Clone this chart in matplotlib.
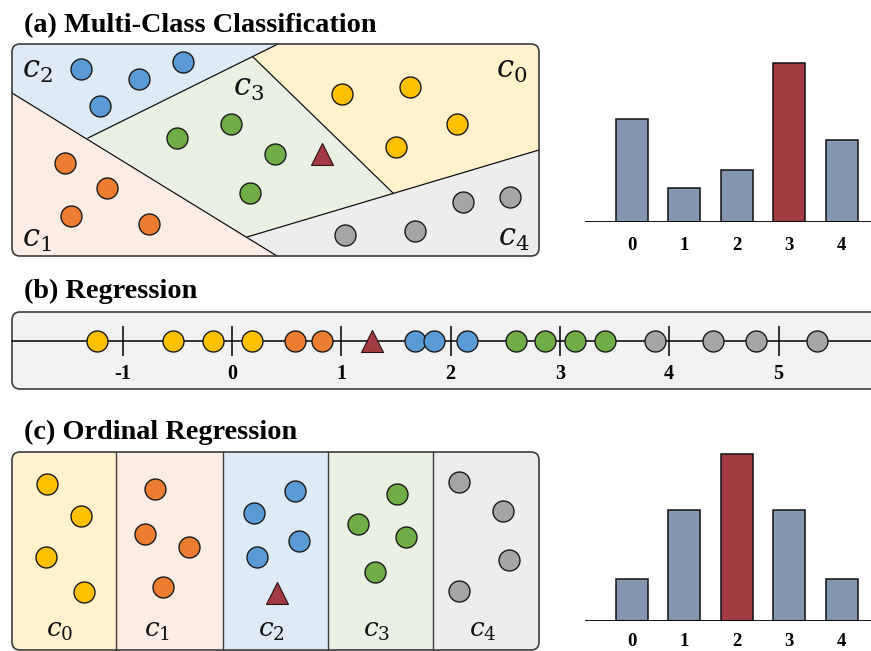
import matplotlib
matplotlib.use("Agg")
import matplotlib.pyplot as plt
from matplotlib.patches import FancyBboxPatch, Polygon, Rectangle

plt.rcParams["mathtext.fontset"] = "custom"
plt.rcParams["mathtext.it"] = "DejaVu Serif:italic"
plt.rcParams["mathtext.rm"] = "DejaVu Serif"

W, H, DPI = 871, 651, 100
SERIF = "Liberation Serif"

CLASSES = ["c0", "c1", "c2", "c3", "c4"]
DOT = {"c0": "#FFC000", "c1": "#ED7D31", "c2": "#5B9BD5", "c3": "#70AD47", "c4": "#A5A5A5"}
TINT = {"c0": "#FFF2CC", "c1": "#FCEDE4", "c2": "#DEEBF7", "c3": "#EAF1E3", "c4": "#EDEDED"}
QUERY = "#A33B42"
BAR = "#8497B0"
EDGE = "#3C3C3C"

# ---------------- (a) multi-class classification (canvas pixels) ----------------
a_points = {
    "c0": [(342, 94), (410, 87), (457, 124), (396, 147)],
    "c1": [(65, 163), (107, 188), (71, 216), (149, 224)],
    "c2": [(81, 69), (139, 79), (183, 62), (100, 106)],
    "c3": [(177, 138), (231, 124), (275, 154), (250, 193)],
    "c4": [(463, 202), (510, 197), (415, 231), (345, 235)],
}
a_query = (322, 154)
a_regions = {
    "c2": [(12, 44), (278, 44), (88, 138), (12, 93)],
    "c1": [(12, 93), (277, 256), (12, 256)],
    "c3": [(88, 138), (253, 57), (393, 193), (247, 237)],
    "c0": [(278, 44), (539, 44), (539, 150), (393, 193), (253, 57)],
    "c4": [(247, 237), (393, 193), (539, 150), (539, 256), (277, 256)],
}
a_borders = [
    [(12, 93), (277, 256)],
    [(88, 138), (278, 44)],
    [(253, 57), (393, 193)],
    [(247, 237), (539, 150)],
]
a_labels = {"c0": (512, 78), "c1": (37, 247), "c2": (37, 78), "c3": (249, 96), "c4": (514, 246)}

# predicted class distribution for the query in (a)
a_bar_cats = ["0", "1", "2", "3", "4"]
a_bar_vals = [0.24, 0.08, 0.12, 0.37, 0.19]
a_bar_hit = 3

# ---------------- (b) regression (values on the real line) ----------------
b_ticks = [-1, 0, 1, 2, 3, 4, 5]
b_tick_labels = ["-1", "0", "1", "2", "3", "4", "5"]
b_values = {
    "c0": [-1.235, -0.54, -0.17, 0.18],
    "c1": [0.58, 0.82],
    "c2": [1.67, 1.85, 2.15],
    "c3": [2.60, 2.86, 3.14, 3.41],
    "c4": [3.87, 4.40, 4.79, 5.35],
}
b_query = 1.28

# ---------------- (c) ordinal regression (canvas pixels) ----------------
c_strip_edges = [12, 116, 223, 328, 433, 539]
c_points = {
    "c0": [(47, 484), (81, 516), (46, 557), (84, 592)],
    "c1": [(155, 489), (145, 534), (189, 547), (163, 587)],
    "c2": [(295, 491), (254, 513), (299, 541), (257, 557)],
    "c3": [(397, 494), (358, 524), (406, 537), (375, 572)],
    "c4": [(459, 482), (503, 511), (509, 560), (459, 591)],
}
c_query = (277, 593)
c_label_x = [60, 157, 271, 377, 483]

c_bar_cats = ["0", "1", "2", "3", "4"]
c_bar_vals = [0.09, 0.24, 0.36, 0.24, 0.09]
c_bar_hit = 2

DOT_S = 228
TRI_S = 250

fig = plt.figure(figsize=(W / DPI, H / DPI), dpi=DPI)
bg = fig.add_axes([0, 0, 1, 1])
bg.set_xlim(0, W)
bg.set_ylim(H, 0)
bg.axis("off")


def panel_box(x0, y0, x1, y1, fc="none"):
    clip = FancyBboxPatch((x0, y0), x1 - x0, y1 - y0,
                          boxstyle="round,pad=0,rounding_size=8",
                          fc=fc, ec="none", zorder=1)
    bg.add_patch(clip)
    outline = FancyBboxPatch((x0, y0), x1 - x0, y1 - y0,
                             boxstyle="round,pad=0,rounding_size=8",
                             fc="none", ec=EDGE, lw=1.2, zorder=6)
    bg.add_patch(outline)
    return clip


def dots(ax, pts, color):
    xs = [p[0] for p in pts]
    ys = [p[1] for p in pts]
    ax.scatter(xs, ys, s=DOT_S, c=color, edgecolors="#1A1A1A", linewidths=1.0, zorder=5)


def query(ax, x, y):
    ax.scatter([x], [y], s=TRI_S, marker="^", c=QUERY, edgecolors="#2A1010",
               linewidths=0.8, zorder=5)


title_kw = dict(fontfamily=SERIF, fontweight="bold", fontsize=20.3, va="baseline", ha="left")
label_kw = dict(ha="center", va="baseline", zorder=7, color="#111111")

# ---- (a) ----
bg.text(24, 32, "(a) Multi-Class Classification", **title_kw)
clip_a = panel_box(12, 44, 539, 256)
for k, poly in a_regions.items():
    patch = Polygon(poly, closed=True, fc=TINT[k], ec="none", zorder=2)
    bg.add_patch(patch)
    patch.set_clip_path(clip_a)
for seg in a_borders:
    bg.plot([seg[0][0], seg[1][0]], [seg[0][1], seg[1][1]], color="#111111", lw=0.9, zorder=3)
for k in CLASSES:
    dots(bg, a_points[k], DOT[k])
    lx, ly = a_labels[k]
    bg.text(lx, ly, "$c_{%s}$" % k[1], fontsize=22, **label_kw)
query(bg, *a_query)

# ---- (b) ----
bg.text(24, 298, "(b) Regression", **title_kw)
clip_b = panel_box(12, 312, 890, 389, fc="#F2F2F2")

px_per_unit = 109.3
zero_px = 232
line_y = 341
half = 20
axb = fig.add_axes([0, (H - line_y - half) / H, 1, 2 * half / H])
axb.set_xlim(-zero_px / px_per_unit, (W - zero_px) / px_per_unit)
axb.set_ylim(-1, 1)
axb.patch.set_visible(False)
for sp in axb.spines.values():
    sp.set_visible(False)
axb.spines["bottom"].set_position(("data", 0))
axb.axhline(0, xmin=12 / W, xmax=1, color="black", lw=1.1, zorder=2)
axb.set_yticks([])
axb.set_xticks(b_ticks)
axb.set_xticklabels(b_tick_labels, fontfamily=SERIF, fontweight="bold", fontsize=14.5)
axb.tick_params(axis="x", direction="inout", length=21.6, width=1.1, color="black", pad=6.0)
for k in CLASSES:
    axb.scatter(b_values[k], [0] * len(b_values[k]), s=DOT_S, c=DOT[k],
                edgecolors="#1A1A1A", linewidths=1.0, zorder=5, clip_on=False)
axb.scatter([b_query], [0], s=TRI_S, marker="^", c=QUERY, edgecolors="#2A1010",
            linewidths=0.8, zorder=5, clip_on=False)

# ---- (c) ----
bg.text(24, 439, "(c) Ordinal Regression", **title_kw)
clip_c = panel_box(12, 452, 539, 650)
for i, k in enumerate(CLASSES):
    x0, x1 = c_strip_edges[i], c_strip_edges[i + 1]
    r = Rectangle((x0, 452), x1 - x0, 198, fc=TINT[k], ec="none", zorder=2)
    bg.add_patch(r)
    r.set_clip_path(clip_c)
    bg.text(c_label_x[i], 637, "$c_{%s}$" % k[1], fontsize=19, **label_kw)
    dots(bg, c_points[k], DOT[k])
for x in c_strip_edges[1:-1]:
    bg.plot([x, x], [452, 650], color=EDGE, lw=1.0, zorder=3)
query(bg, *c_query)


# ---- bar charts ----
def bar_panel(base_px, vals, cats, hit, unit_px, pad):
    ax = fig.add_axes([585 / W, (H - base_px) / H, (W - 585) / W, 180 / H])
    spacing = 52.4
    ax.set_xlim(-(632 - 585) / spacing, (W - 632) / spacing)
    ax.set_ylim(0, 180 / unit_px)
    ax.patch.set_visible(False)
    for sp in ax.spines.values():
        sp.set_visible(False)
    colors = [QUERY if i == hit else BAR for i in range(len(vals))]
    ax.bar(range(len(vals)), vals, width=0.61, color=colors, edgecolor="#111111",
           linewidth=1.1, zorder=3)
    ax.axhline(0, color="black", lw=1.3, zorder=4)
    ax.set_yticks([])
    ax.set_xticks(range(len(cats)))
    ax.set_xticklabels(cats, fontfamily=SERIF, fontweight="bold", fontsize=13.5)
    ax.tick_params(axis="x", length=0, pad=pad)
    return ax


bar_panel(222, a_bar_vals, a_bar_cats, a_bar_hit, 159 / 0.37, 11)
bar_panel(621, c_bar_vals, c_bar_cats, c_bar_hit, 167 / 0.36, 9)

fig.savefig("out.png", dpi=DPI)
